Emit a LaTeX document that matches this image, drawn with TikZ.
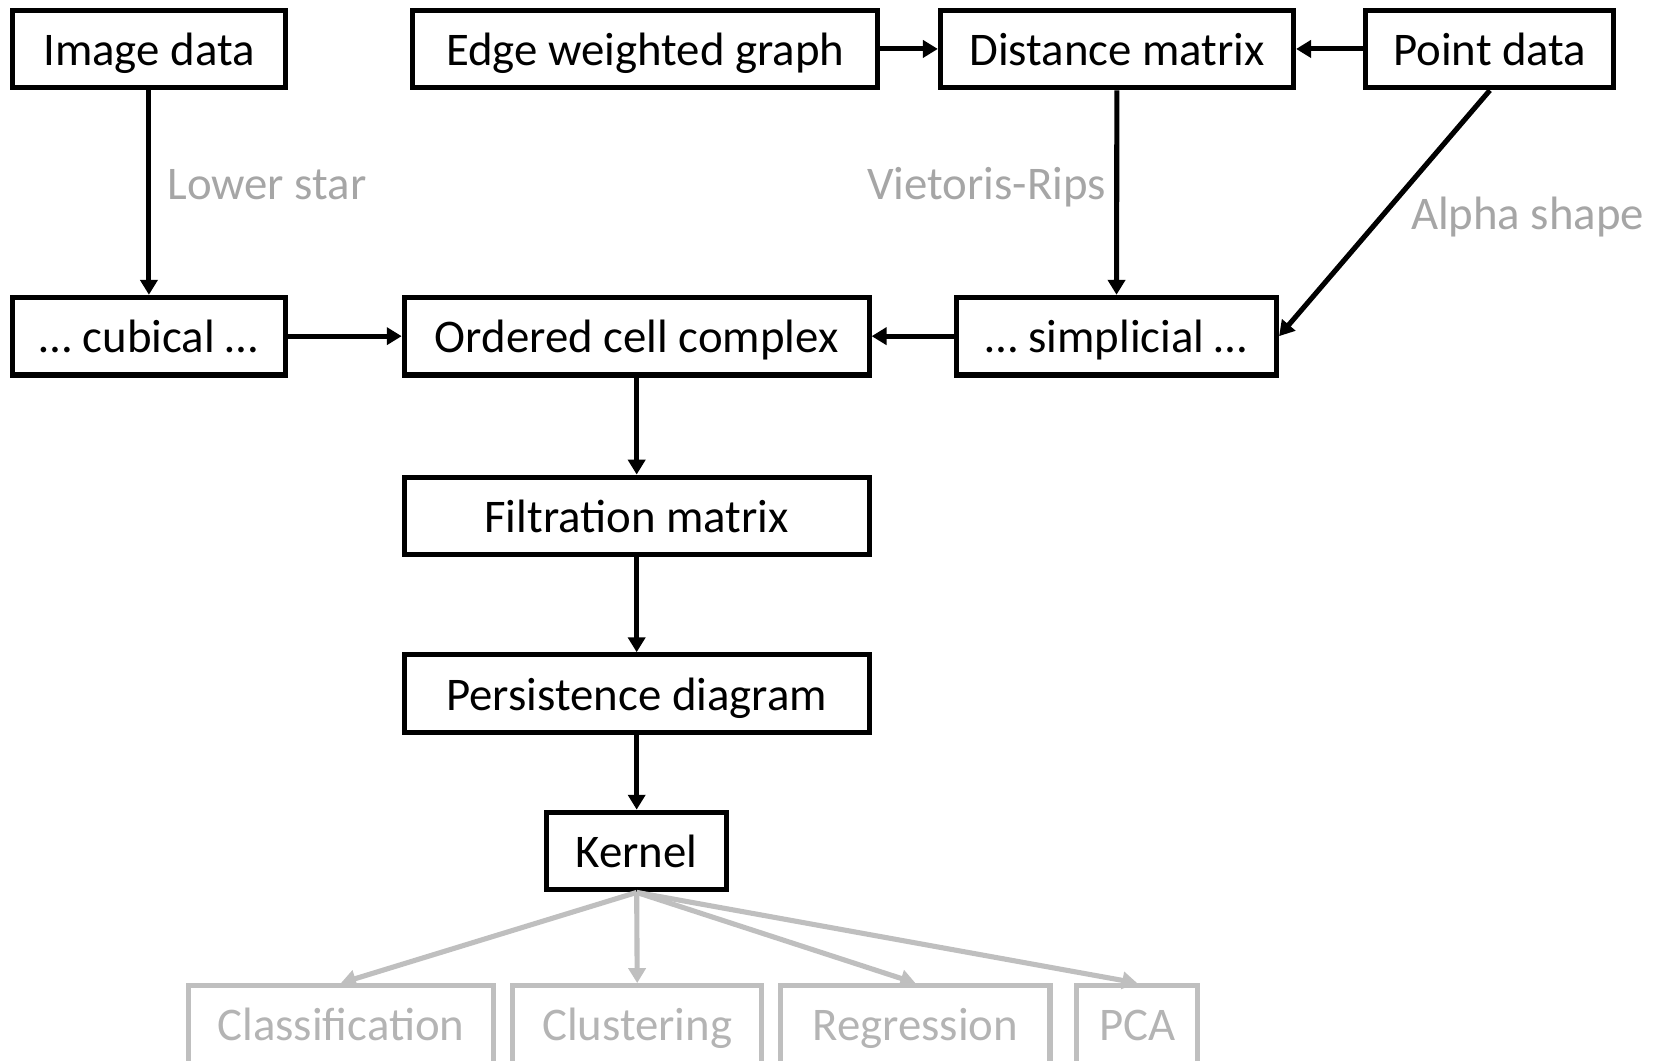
\documentclass[tikz,border=0pt]{standalone}
\usepackage{fontspec}
\setmainfont{Carlito}
\usetikzlibrary{arrows.meta}
\definecolor{lblgrey}{HTML}{A6A6A6}
\definecolor{boxgrey}{HTML}{BFBFBF}
\definecolor{outgrey}{HTML}{B4B4B4}
\begin{document}
\begin{tikzpicture}[x=0.5pt,y=-0.5pt,
  box/.style={draw=black, line width=2.4pt, inner sep=0pt, minimum height=36.5pt,
    font=\fontsize{22}{26}\selectfont, text height=16.5pt, text depth=1pt},
  gbox/.style={box, draw=boxgrey, text=outgrey},
  arr/.style={line width=2.4pt, -{Triangle[width=8pt,length=7pt]}},
  garr/.style={arr, draw=boxgrey, line width=2.4pt},
  lbl/.style={text=lblgrey, inner sep=0pt, font=\fontsize{22}{26}\selectfont}
]
\clip (0,0) rectangle (1568,997);
% top row
\node[box, minimum width=128pt] (img) at (140,46) {Image data};
\node[box, minimum width=218.5pt] (ewg) at (606.5,46) {Edge weighted graph};
\node[box, minimum width=166pt] (dist) at (1050,46) {Distance matrix};
\node[box, minimum width=116.5pt] (pt) at (1400.5,46) {Point data};
% second row
\node[box, minimum width=128pt] (cub) at (140,316) {… cubical …};
\node[box, minimum width=218.5pt] (occ) at (598.5,316) {Ordered cell complex};
\node[box, minimum width=150.5pt] (simp) at (1049.5,316) {… simplicial …};
% column
\node[box, minimum width=218.5pt] (filt) at (598.5,485) {Filtration matrix};
\node[box, minimum width=218.5pt] (pers) at (598.5,652) {Persistence diagram};
\node[box, minimum width=84.5pt] (ker) at (598.5,800) {Kernel};
% outputs
\node[gbox, minimum width=143.5pt] (cls) at (320.5,963) {Classification};
\node[gbox, minimum width=117pt] (clu) at (599,963) {Clustering};
\node[gbox, minimum width=126.5pt] (reg) at (860.5,963) {Regression};
\node[gbox, minimum width=57pt] (pca) at (1069,963) {PCA};
% labels
\node[lbl, anchor=base west] (lls) at (157,188) {Lower star};
\node[lbl, anchor=base east] (lvr) at (1040,188) {Vietoris-Rips};
\node[lbl, anchor=base west] (las) at (1326,216) {Alpha shape};
% connectors
\draw[arr] (img) -- (cub);
\draw[arr] (ewg) -- (dist);
\draw[arr] (pt) -- (dist);
\draw[arr] (dist) -- (simp);
\draw[arr] (pt.south) -- (simp.east);
\draw[arr] (cub) -- (occ);
\draw[arr] (simp) -- (occ);
\draw[arr] (occ) -- (filt);
\draw[arr] (filt) -- (pers);
\draw[arr] (pers) -- (ker);
\draw[garr] (ker.south) -- (cls.north);
\draw[garr] (ker.south) -- (clu.north);
\draw[garr] (ker.south) -- (reg.north);
\draw[garr] (ker.south) -- (pca.north);
\end{tikzpicture}
\end{document}
